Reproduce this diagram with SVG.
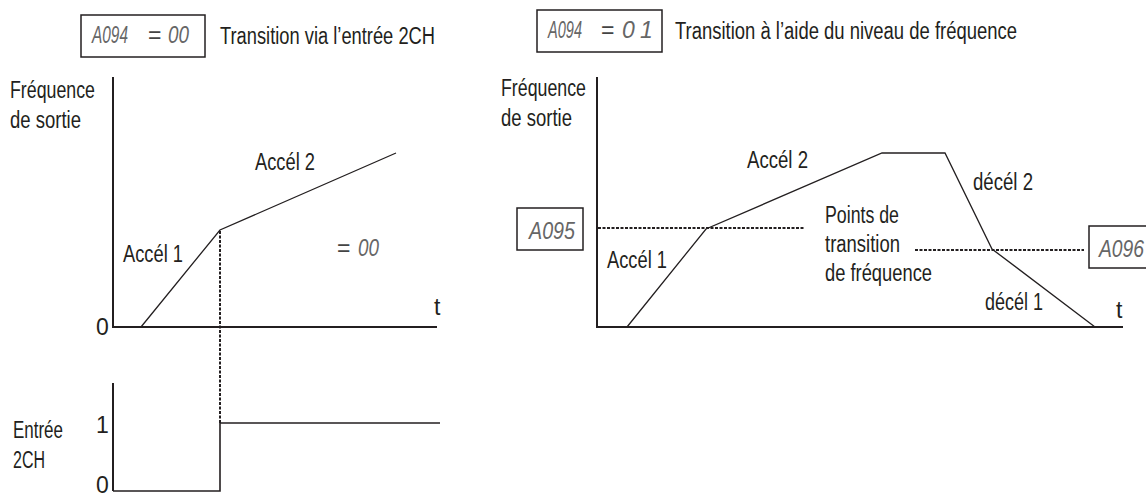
<svg xmlns="http://www.w3.org/2000/svg" width="1146" height="494" viewBox="0 0 1146 494">
<style>
.t{font-family:"Liberation Sans",Arial,sans-serif;font-size:23px;fill:#231f20;}
.seg{font-family:"Liberation Sans",Arial,sans-serif;font-style:italic;font-size:23px;fill:#666;}
.eq{font-family:"Liberation Sans",Arial,sans-serif;font-size:23px;fill:#444;}
.box{fill:#fff;stroke:#231f20;stroke-width:1.5;}
.axis{fill:none;stroke:#231f20;stroke-width:2;}
.curve{fill:none;stroke:#231f20;stroke-width:1.3;}
.sig{fill:none;stroke:#231f20;stroke-width:1.6;}
.dot{fill:none;stroke:#231f20;stroke-width:2;stroke-dasharray:3 1.5;}
</style>
<rect width="1146" height="494" fill="#fff"/>

<g id="title-left">
<rect class="box" x="81" y="15" width="124" height="42"/>
<text class="seg" x="92" y="43" textLength="36" lengthAdjust="spacingAndGlyphs">A094</text>
<text class="eq" x="148" y="43">=</text>
<text class="seg" x="168" y="43" textLength="21" lengthAdjust="spacingAndGlyphs">00</text>
<text class="t" x="220" y="44" textLength="215" lengthAdjust="spacingAndGlyphs">Transition via l’entrée 2CH</text>
</g>

<g id="title-right">
<rect class="box" x="537" y="10" width="125" height="42"/>
<text class="seg" x="548" y="38" textLength="34" lengthAdjust="spacingAndGlyphs">A094</text>
<text class="eq" x="601" y="38">=</text>
<text class="seg" x="622" y="38">0</text>
<text class="seg" x="640" y="38">1</text>
<text class="t" x="675" y="39" textLength="342" lengthAdjust="spacingAndGlyphs">Transition à l’aide du niveau de fréquence</text>
</g>

<g id="chart-left">
<path class="axis" d="M113,77 V327 H437"/>
<text class="t" x="10" y="98" textLength="85" lengthAdjust="spacingAndGlyphs">Fréquence</text>
<text class="t" x="10" y="128" textLength="71" lengthAdjust="spacingAndGlyphs">de sortie</text>
<text class="t" x="96" y="335">0</text>
<text class="t" x="434" y="315">t</text>
<text class="t" x="255" y="170" textLength="60" lengthAdjust="spacingAndGlyphs">Accél 2</text>
<text class="t" x="123" y="262" textLength="60" lengthAdjust="spacingAndGlyphs">Accél 1</text>
<text class="eq" x="337" y="256">=</text>
<text class="seg" x="358" y="256" textLength="21" lengthAdjust="spacingAndGlyphs">00</text>
</g>

<g id="chart-input">
<path class="axis" d="M113,383 V491"/>
<text class="t" x="13" y="438" textLength="50" lengthAdjust="spacingAndGlyphs">Entrée</text>
<text class="t" x="13" y="468" textLength="32" lengthAdjust="spacingAndGlyphs">2CH</text>
<text class="t" x="96" y="433">1</text>
<text class="t" x="96" y="493">0</text>
</g>

<g id="chart-right">
<path class="axis" d="M597,77 V327 H1123"/>
<text class="t" x="501" y="96" textLength="85" lengthAdjust="spacingAndGlyphs">Fréquence</text>
<text class="t" x="501" y="126" textLength="71" lengthAdjust="spacingAndGlyphs">de sortie</text>
<text class="t" x="1116" y="318">t</text>
<text class="t" x="747" y="168" textLength="61" lengthAdjust="spacingAndGlyphs">Accél 2</text>
<text class="t" x="607" y="268" textLength="60" lengthAdjust="spacingAndGlyphs">Accél 1</text>
<text class="t" x="973" y="190" textLength="60" lengthAdjust="spacingAndGlyphs">décél 2</text>
<text class="t" x="985" y="310" textLength="58" lengthAdjust="spacingAndGlyphs">décél 1</text>
<text class="t" x="825" y="223" textLength="74" lengthAdjust="spacingAndGlyphs">Points de</text>
<text class="t" x="825" y="252" textLength="75" lengthAdjust="spacingAndGlyphs">transition</text>
<text class="t" x="825" y="281" textLength="107" lengthAdjust="spacingAndGlyphs">de fréquence</text>
</g>

<g id="param-A095">
<rect class="box" x="517" y="208" width="66" height="42"/>
<text class="seg" x="529" y="239" textLength="46" lengthAdjust="spacingAndGlyphs">A095</text>
</g>

<g id="param-A096">
<rect class="box" x="1089" y="226" width="62" height="42"/>
<text class="seg" x="1099" y="257" textLength="45" lengthAdjust="spacingAndGlyphs">A096</text>
</g>

<g id="connectors">
<polyline class="curve" points="141,327 220,230 396,153"/>
<path class="dot" d="M220,231 V423"/>
<polyline class="sig" points="113,491 220,491 220,423 440,423"/>
<polyline class="curve" points="627,327 706,229 882,153 945,153 992,249 1095,327"/>
<path class="dot" d="M598,228 H805"/>
<path class="dot" d="M915,250 H1084"/>
</g>
</svg>
